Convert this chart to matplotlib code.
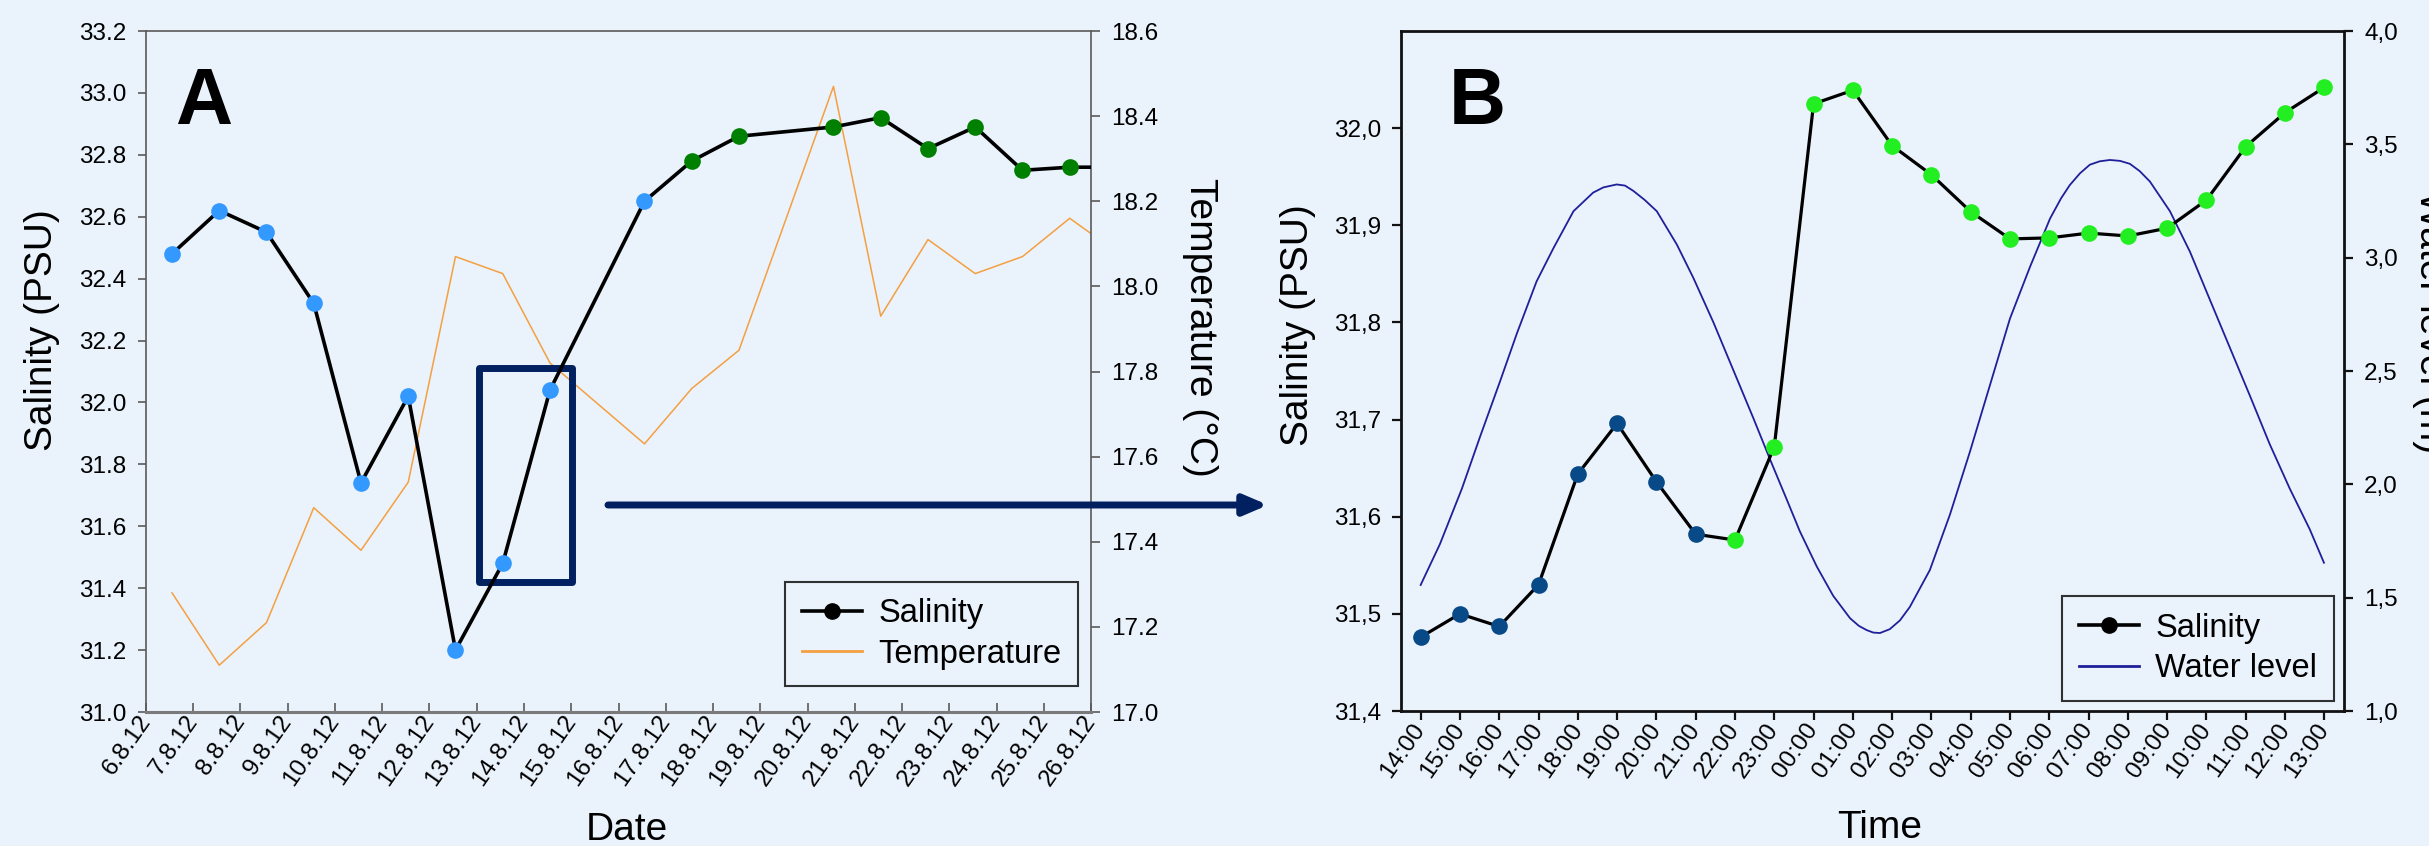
import numpy as np
import matplotlib
matplotlib.use("Agg")
import matplotlib.pyplot as plt
from matplotlib.lines import Line2D
from matplotlib.patches import Rectangle

plt.rcParams['font.family'] = ['Liberation Sans', 'DejaVu Sans']

W, H = 2429, 846
BG = '#eaf2fc'
NAVY = '#002060'

# ---- panel A: daily samples, Aug 2012 (x = day of month, taken around midday)
days_a = [6.55, 7.55, 8.55, 9.55, 10.55, 11.55, 12.55, 13.55, 14.55, 16.55,
          17.55, 18.55, 20.55, 21.55, 22.55, 23.55, 24.55, 25.55, 26.55]
sal_a = [32.48, 32.62, 32.55, 32.32, 31.74, 32.02, 31.20, 31.48, 32.04, 32.65,
         32.78, 32.86, 32.89, 32.92, 32.82, 32.89, 32.75, 32.76, 32.76]
temp_a = [17.28, 17.11, 17.21, 17.48, 17.38, 17.54, 18.07, 18.03, 17.82, 17.63,
          17.76, 17.85, 18.47, 17.93, 18.11, 18.03, 18.07, 18.16, 18.08]
n_blue_a = 10
date_ticks = list(range(6, 27))
date_labels = [f"{d}.8.12" for d in date_ticks]
sal_a_ticks = [31.0, 31.2, 31.4, 31.6, 31.8, 32.0, 32.2, 32.4, 32.6, 32.8, 33.0, 33.2]
temp_ticks = [17.0, 17.2, 17.4, 17.6, 17.8, 18.0, 18.2, 18.4, 18.6]
zoom_box = (13.04, 31.42, 15.01, 32.11)  # x0, y0, x1, y1

# ---- panel B: hourly samples over one tidal day
hours_b = ['14:00', '15:00', '16:00', '17:00', '18:00', '19:00', '20:00', '21:00',
           '22:00', '23:00', '00:00', '01:00', '02:00', '03:00', '04:00', '05:00',
           '06:00', '07:00', '08:00', '09:00', '10:00', '11:00', '12:00', '13:00']
sal_b = [31.476, 31.500, 31.487, 31.530, 31.644, 31.696, 31.636, 31.582,
         31.576, 31.672, 32.025, 32.039, 31.982, 31.952, 31.914, 31.886,
         31.887, 31.892, 31.889, 31.897, 31.926, 31.981, 32.016, 32.042]
n_dark_b = 8
# water level (m), x in hours after 14:00
water_t = [0.0, 0.49, 1.05, 1.51, 2.02, 2.45, 2.95, 3.38, 3.89, 4.39,
           4.65, 4.99, 5.2, 5.41, 5.7, 6.01, 6.52, 6.94, 7.45, 7.96,
           8.47, 8.89, 9.32, 9.65, 10.08, 10.50, 10.93, 11.15, 11.35, 11.52,
           11.69, 11.94, 12.2, 12.45, 12.96, 13.47, 13.98, 14.49, 15.0, 15.51,
           16.02, 16.3, 16.52, 16.78, 17.03, 17.28, 17.54, 17.8, 18.05, 18.3,
           18.56, 19.07, 19.58, 20.09, 20.60, 21.11, 21.61, 22.12, 22.63, 22.99]
water_m = [1.556, 1.736, 1.981, 2.209, 2.454, 2.666, 2.895, 3.042, 3.205, 3.287,
           3.310, 3.323, 3.318, 3.295, 3.255, 3.205, 3.058, 2.911, 2.715, 2.503,
           2.291, 2.111, 1.932, 1.793, 1.638, 1.508, 1.409, 1.376, 1.357, 1.346,
           1.344, 1.361, 1.400, 1.459, 1.622, 1.866, 2.144, 2.438, 2.732, 2.960,
           3.173, 3.262, 3.320, 3.372, 3.410, 3.425, 3.431, 3.427, 3.414, 3.382,
           3.336, 3.205, 3.026, 2.813, 2.601, 2.389, 2.177, 1.981, 1.801, 1.654]
sal_b_ticks = [31.4, 31.5, 31.6, 31.7, 31.8, 31.9, 32.0]
water_ticks = [1.0, 1.5, 2.0, 2.5, 3.0, 3.5, 4.0]

TICK_FS = 17.5
LABEL_FS = 28
LEG_FS = 23.5

fig = plt.figure(figsize=(W / 100, H / 100), dpi=100, facecolor=BG)


def fx(px):
    return px / W


def fy(py):
    return 1 - py / H


# ================= panel A =================
ax_a = fig.add_axes([fx(146), fy(712), fx(1091 - 146), (712 - 31) / H])
tw_a = ax_a.twinx()
ax_a.set_zorder(tw_a.get_zorder() + 1)
ax_a.patch.set_visible(False)
tw_a.patch.set_visible(False)

tw_a.plot(days_a, temp_a, color='#f4a040', lw=1.1)
ax_a.plot(days_a, sal_a, color='black', lw=2.6, zorder=2)
ax_a.plot(days_a[:n_blue_a], sal_a[:n_blue_a], 'o', color='#3399ff', ms=12, mew=0, zorder=3)
ax_a.plot(days_a[n_blue_a:], sal_a[n_blue_a:], 'o', color='#008000', ms=12, mew=0, zorder=3)

x0, y0, x1, y1 = zoom_box
ax_a.add_patch(Rectangle((x0, y0), x1 - x0, y1 - y0, fill=False, lw=5, ec=NAVY,
                         joinstyle='round', zorder=1.5))

ax_a.set_xlim(6, 26)
ax_a.set_ylim(31.0, 33.2)
tw_a.set_ylim(17.0, 18.6)
ax_a.set_xticks(date_ticks)
ax_a.set_xticklabels(date_labels)
ax_a.set_yticks(sal_a_ticks)
ax_a.set_yticklabels([f"{v:.1f}" for v in sal_a_ticks])
tw_a.set_yticks(temp_ticks)
tw_a.set_yticklabels([f"{v:.1f}" for v in temp_ticks])

GRAY = '#5a5a5a'
for sp in ['left', 'top']:
    ax_a.spines[sp].set_color(GRAY)
    ax_a.spines[sp].set_linewidth(1.2)
ax_a.spines['bottom'].set_color('#7a7a7a')
ax_a.spines['bottom'].set_linewidth(2.2)
ax_a.spines['right'].set_visible(False)
for sp in ['left', 'top', 'bottom']:
    tw_a.spines[sp].set_visible(False)
tw_a.spines['right'].set_color(GRAY)
tw_a.spines['right'].set_linewidth(1.2)

ax_a.tick_params(axis='x', direction='in', length=6.5, width=1.2, color=GRAY,
                 labelsize=TICK_FS, pad=4)
ax_a.tick_params(axis='y', direction='out', length=6, width=1.2, color=GRAY,
                 labelsize=TICK_FS, pad=8)
tw_a.tick_params(axis='y', direction='out', length=6.5, width=1.2, color=GRAY,
                 labelsize=TICK_FS, pad=8)
plt.setp(ax_a.get_xticklabels(), rotation=55, ha='right', va='center',
         rotation_mode='anchor')

handles_a = [Line2D([], [], color='black', lw=2.6, marker='o', ms=11),
             Line2D([], [], color='#f4a040', lw=2)]
leg_a = ax_a.legend(handles_a, ['Salinity', 'Temperature'], loc='lower right',
                    bbox_to_anchor=(0.986, 0.038), borderaxespad=0, fontsize=LEG_FS,
                    frameon=True, fancybox=False, handlelength=1.85,
                    handletextpad=0.5, borderpad=0.5, labelspacing=0.3)
leg_a.get_frame().set_edgecolor('black')
leg_a.get_frame().set_linewidth(1.5)
leg_a.get_frame().set_facecolor(BG)

fig.text(fx(175), fy(124), 'A', fontsize=57, fontweight='bold', ha='left', va='baseline')
fig.text(fx(24), fy(330), 'Salinity (PSU)', fontsize=LABEL_FS, rotation=90,
         ha='left', va='center')
fig.text(fx(1182), fy(327), 'Temperature (°C)', fontsize=LABEL_FS, rotation=270,
         ha='left', va='center')
fig.text(fx(627), fy(840), 'Date', fontsize=LABEL_FS, ha='center', va='baseline')

ax_a.annotate('', xy=(fx(1268), fy(505)), xytext=(fx(608), fy(505)),
              xycoords='figure fraction', textcoords='figure fraction',
              arrowprops=dict(arrowstyle='-|>,head_length=1.4,head_width=0.6',
                              mutation_scale=10, lw=5, color=NAVY,
                              shrinkA=0, shrinkB=0),
              annotation_clip=False, zorder=5)

# ================= panel B =================
ax_b = fig.add_axes([fx(1401), fy(711), fx(2344 - 1401), (711 - 31) / H])
tw_b = ax_b.twinx()
ax_b.set_zorder(tw_b.get_zorder() + 1)
ax_b.patch.set_visible(False)
tw_b.patch.set_visible(False)

idx_b = np.arange(len(hours_b))
tw_b.plot(water_t, water_m, color='#1f1f9a', lw=1.3)
ax_b.plot(idx_b, sal_b, color='black', lw=2.3, zorder=2)
ax_b.plot(idx_b[:n_dark_b], sal_b[:n_dark_b], 'o', color='#084a87', ms=12, mew=0, zorder=3)
ax_b.plot(idx_b[n_dark_b:], sal_b[n_dark_b:], 'o', color='#22ee22', ms=12, mew=0, zorder=3)

ax_b.set_xlim(-0.5, 23.5)
ax_b.set_ylim(31.4, 32.1)
tw_b.set_ylim(1.0, 4.0)
ax_b.set_xticks(idx_b)
ax_b.set_xticklabels(hours_b)
ax_b.set_yticks(sal_b_ticks)
ax_b.set_yticklabels([f"{v:.1f}".replace('.', ',') for v in sal_b_ticks])
tw_b.set_yticks(water_ticks)
tw_b.set_yticklabels([f"{v:.1f}".replace('.', ',') for v in water_ticks])

for sp in ['left', 'top', 'bottom']:
    ax_b.spines[sp].set_color('#111111')
    ax_b.spines[sp].set_linewidth(2)
    tw_b.spines[sp].set_visible(False)
ax_b.spines['right'].set_visible(False)
tw_b.spines['right'].set_color('#111111')
tw_b.spines['right'].set_linewidth(2)

ax_b.tick_params(axis='x', direction='out', length=6.5, width=1.6, color='#111111',
                 labelsize=TICK_FS, pad=4)
ax_b.tick_params(axis='y', direction='out', length=6.5, width=1.6, color='#111111',
                 labelsize=TICK_FS, pad=8)
tw_b.tick_params(axis='y', direction='out', length=6.5, width=1.6, color='#111111',
                 labelsize=TICK_FS, pad=8)
plt.setp(ax_b.get_xticklabels(), rotation=55, ha='right', va='center',
         rotation_mode='anchor')

handles_b = [Line2D([], [], color='black', lw=2.6, marker='o', ms=11),
             Line2D([], [], color='#1f1f9a', lw=2)]
leg_b = ax_b.legend(handles_b, ['Salinity', 'Water level'], loc='lower right',
                    bbox_to_anchor=(0.989, 0.015), borderaxespad=0, fontsize=LEG_FS,
                    frameon=True, fancybox=False, handlelength=1.85,
                    handletextpad=0.5, borderpad=0.5, labelspacing=0.3)
leg_b.get_frame().set_edgecolor('black')
leg_b.get_frame().set_linewidth(1.5)
leg_b.get_frame().set_facecolor(BG)

fig.text(fx(1449), fy(124), 'B', fontsize=57, fontweight='bold', ha='left', va='baseline')
fig.text(fx(1280), fy(325), 'Salinity (PSU)', fontsize=LABEL_FS, rotation=90,
         ha='left', va='center')
fig.text(fx(2412), fy(322), 'Water level (m)', fontsize=LABEL_FS, rotation=270,
         ha='left', va='center')
fig.text(fx(1880), fy(838), 'Time', fontsize=LABEL_FS, ha='center', va='baseline')

fig.savefig('out.png', dpi=100, facecolor=BG)
